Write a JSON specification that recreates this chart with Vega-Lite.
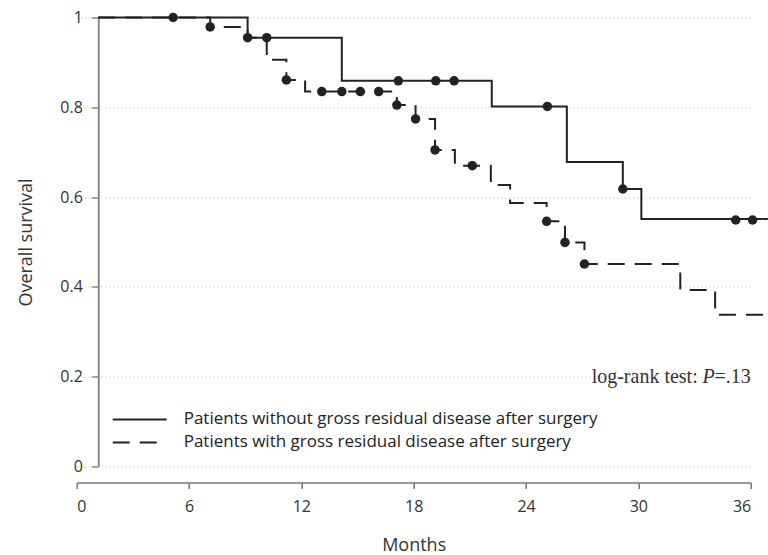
{
  "$schema": "https://vega.github.io/schema/vega-lite/v6.json",
  "width": 674,
  "height": 449,
  "autosize": {"type": "none"},
  "padding": {"left": 76.7, "top": 17.5, "right": 17.3, "bottom": 88.3},
  "config": {"view": {"stroke": null}, "font": "Open Sans"},
  "datasets": {
    "curves": [
      {"group": "Patients without gross residual disease after surgery", "t": 1.15, "s": 1},
      {"group": "Patients without gross residual disease after surgery", "t": 9.13, "s": 0.955},
      {"group": "Patients without gross residual disease after surgery", "t": 14.16, "s": 0.859},
      {"group": "Patients without gross residual disease after surgery", "t": 22.17, "s": 0.802},
      {"group": "Patients without gross residual disease after surgery", "t": 26.18, "s": 0.678},
      {"group": "Patients without gross residual disease after surgery", "t": 29.17, "s": 0.618},
      {"group": "Patients without gross residual disease after surgery", "t": 30.16, "s": 0.551},
      {"group": "Patients without gross residual disease after surgery", "t": 37.0, "s": 0.551},
      {"group": "Patients with gross residual disease after surgery", "t": 1.15, "s": 1},
      {"group": "Patients with gross residual disease after surgery", "t": 7.13, "s": 0.979},
      {"group": "Patients with gross residual disease after surgery", "t": 9.13, "s": 0.955},
      {"group": "Patients with gross residual disease after surgery", "t": 10.15, "s": 0.906},
      {"group": "Patients with gross residual disease after surgery", "t": 11.2, "s": 0.861},
      {"group": "Patients with gross residual disease after surgery", "t": 12.2, "s": 0.835},
      {"group": "Patients with gross residual disease after surgery", "t": 17.1, "s": 0.805},
      {"group": "Patients with gross residual disease after surgery", "t": 18.1, "s": 0.774},
      {"group": "Patients with gross residual disease after surgery", "t": 19.14, "s": 0.705},
      {"group": "Patients with gross residual disease after surgery", "t": 20.2, "s": 0.67},
      {"group": "Patients with gross residual disease after surgery", "t": 22.12, "s": 0.627},
      {"group": "Patients with gross residual disease after surgery", "t": 23.15, "s": 0.587},
      {"group": "Patients with gross residual disease after surgery", "t": 25.1, "s": 0.546},
      {"group": "Patients with gross residual disease after surgery", "t": 26.08, "s": 0.499},
      {"group": "Patients with gross residual disease after surgery", "t": 27.12, "s": 0.451},
      {"group": "Patients with gross residual disease after surgery", "t": 32.24, "s": 0.393},
      {"group": "Patients with gross residual disease after surgery", "t": 34.1, "s": 0.338},
      {"group": "Patients with gross residual disease after surgery", "t": 37.0, "s": 0.338}
    ],
    "censors": [
      {"group": "without", "t": 5.15, "s": 1},
      {"group": "without", "t": 9.13, "s": 0.955},
      {"group": "without", "t": 10.15, "s": 0.955},
      {"group": "without", "t": 17.18, "s": 0.859},
      {"group": "without", "t": 19.18, "s": 0.859},
      {"group": "without", "t": 20.16, "s": 0.859},
      {"group": "without", "t": 25.14, "s": 0.802},
      {"group": "without", "t": 29.17, "s": 0.618},
      {"group": "without", "t": 35.2, "s": 0.549},
      {"group": "without", "t": 36.1, "s": 0.549},
      {"group": "with", "t": 7.13, "s": 0.979},
      {"group": "with", "t": 11.2, "s": 0.861},
      {"group": "with", "t": 13.09, "s": 0.835},
      {"group": "with", "t": 14.16, "s": 0.835},
      {"group": "with", "t": 15.15, "s": 0.835},
      {"group": "with", "t": 16.13, "s": 0.835},
      {"group": "with", "t": 17.1, "s": 0.805},
      {"group": "with", "t": 18.1, "s": 0.774},
      {"group": "with", "t": 19.14, "s": 0.705},
      {"group": "with", "t": 21.13, "s": 0.67},
      {"group": "with", "t": 25.1, "s": 0.546},
      {"group": "with", "t": 26.08, "s": 0.499},
      {"group": "with", "t": 27.12, "s": 0.451}
    ],
    "notes": [
      {"t": 36, "s": 0.186, "part": "a", "label": "log-rank test:"},
      {"t": 36, "s": 0.186, "part": "b", "label": "P"},
      {"t": 36, "s": 0.186, "part": "c", "label": "=.13"}
    ]
  },
  "layer": [
    {
      "data": {"name": "curves"},
      "mark": {"type": "line", "interpolate": "step-after", "clip": false, "strokeWidth": 2, "color": "#222"},
      "encoding": {
        "x": {
          "field": "t", "type": "quantitative",
          "scale": {"domain": [0, 36], "nice": false, "zero": false},
          "axis": {
            "values": [0, 6, 12, 18, 24, 30, 36],
            "title": "Months", "offset": 16, "grid": false,
            "domainColor": "#777", "domainWidth": 1.5,
            "tickColor": "#777", "tickWidth": 1.5, "tickSize": 6,
            "labelFontSize": 16, "labelColor": "#333", "labelPadding": 10,
            "titleFontSize": 18, "titleFontWeight": "normal", "titleColor": "#333", "titlePadding": 22
          }
        },
        "y": {
          "field": "s", "type": "quantitative",
          "scale": {"domain": [0, 1], "nice": false},
          "axis": {
            "values": [0, 0.2, 0.4, 0.6, 0.8, 1], "format": "~g",
            "title": "Overall survival", "offset": -21.6,
            "grid": true, "gridDash": [1, 3], "gridColor": "#bbb", "gridWidth": 1,
            "domainColor": "#888", "domainWidth": 2,
            "tickColor": "#888", "tickWidth": 1.5, "tickSize": 7,
            "labelFontSize": 16, "labelColor": "#333", "labelPadding": 9,
            "titleFontSize": 18, "titleFontWeight": "normal", "titleColor": "#333", "titlePadding": 24
          }
        },
        "strokeDash": {
          "field": "group", "type": "nominal",
          "scale": {
            "domain": ["Patients without gross residual disease after surgery", "Patients with gross residual disease after surgery"],
            "range": [[1, 0], [17, 10]]
          },
          "legend": {
            "title": null, "orient": "none", "legendX": 53, "legendY": 392,
            "symbolType": "M-3,0H3", "symbolSize": 324, "symbolStrokeWidth": 2, "symbolStrokeColor": "#222",
            "labelFont": "Open Sans", "labelFontSize": 17, "labelColor": "#222", "labelOffset": 34, "labelLimit": 0, "rowPadding": 5, "padding": 0
          }
        }
      }
    },
    {
      "data": {"name": "censors"},
      "mark": {"type": "point", "filled": true, "shape": "circle", "size": 90, "color": "#222", "opacity": 1},
      "encoding": {
        "x": {"field": "t", "type": "quantitative"},
        "y": {"field": "s", "type": "quantitative"}
      }
    },
    {
      "data": {"name": "notes"},
      "transform": [{"filter": "datum.part == 'a'"}],
      "mark": {"type": "text", "align": "right", "baseline": "alphabetic", "dx": -53, "font": "Liberation Serif", "fontSize": 20, "color": "#333"},
      "encoding": {
        "x": {"field": "t", "type": "quantitative"},
        "y": {"field": "s", "type": "quantitative"},
        "text": {"field": "label"}
      }
    },
    {
      "data": {"name": "notes"},
      "transform": [{"filter": "datum.part == 'b'"}],
      "mark": {"type": "text", "align": "right", "baseline": "alphabetic", "dx": -36, "font": "Liberation Serif", "fontStyle": "italic", "fontSize": 20, "color": "#333"},
      "encoding": {
        "x": {"field": "t", "type": "quantitative"},
        "y": {"field": "s", "type": "quantitative"},
        "text": {"field": "label"}
      }
    },
    {
      "data": {"name": "notes"},
      "transform": [{"filter": "datum.part == 'c'"}],
      "mark": {"type": "text", "align": "right", "baseline": "alphabetic", "dx": 0, "font": "Liberation Serif", "fontSize": 20, "color": "#333"},
      "encoding": {
        "x": {"field": "t", "type": "quantitative"},
        "y": {"field": "s", "type": "quantitative"},
        "text": {"field": "label"}
      }
    }
  ]
}
